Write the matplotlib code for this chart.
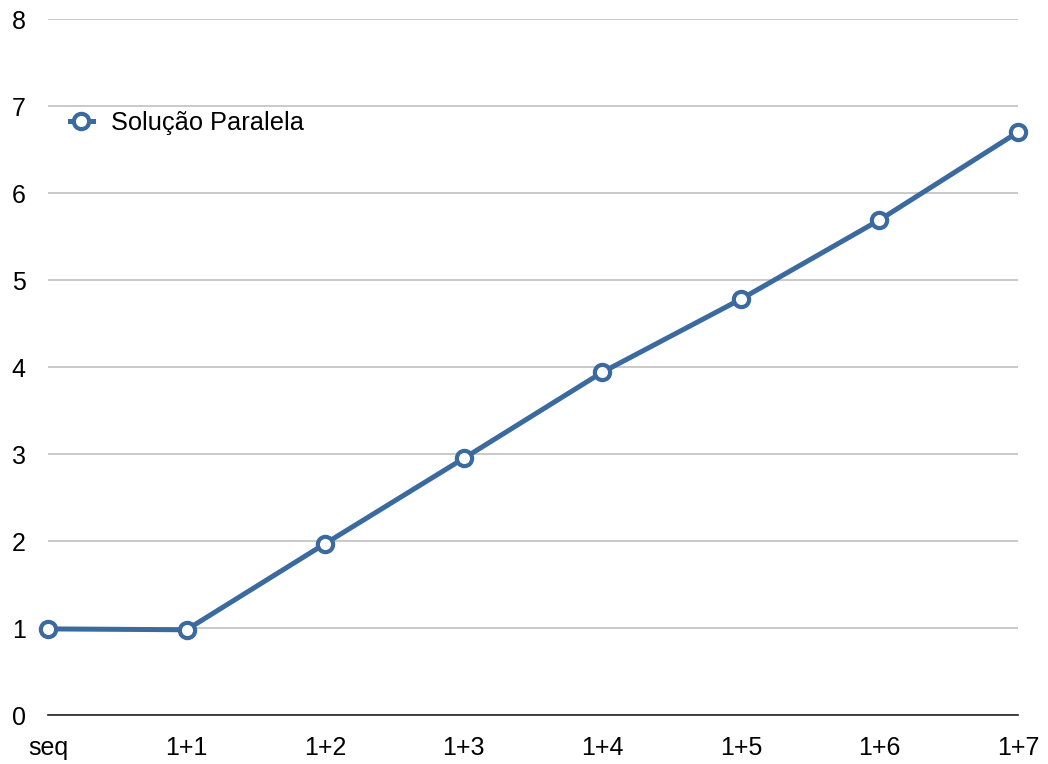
import matplotlib
matplotlib.use('Agg')

import matplotlib.pyplot as plt

# Data
categories = ['seq', '1+1', '1+2', '1+3', '1+4', '1+5', '1+6', '1+7']
speedup = [0.99, 0.98, 1.97, 2.95, 3.94, 4.78, 5.69, 6.70]
series_name = 'Solução Paralela'

plt.rcParams['font.family'] = ['Liberation Sans', 'DejaVu Sans']

fig = plt.figure(figsize=(10.48, 7.64), dpi=100)
ax = fig.add_axes([0.0458, 0.0641, 0.9256, 0.911])

color = '#3b6a9e'
x = range(len(categories))
ax.plot(x, speedup, color=color, linewidth=3.6, marker='o', markersize=11,
        markerfacecolor='white', markeredgecolor=color, markeredgewidth=3,
        label=series_name, clip_on=False, zorder=3)

ax.set_xlim(0, len(categories) - 1)
ax.set_ylim(0, 8)
ax.set_yticks(range(0, 9))
ax.set_xticks(list(x))
ax.set_xticklabels(categories)

ax.grid(axis='y', color='#c0c0c0', linewidth=1.2)
ax.set_axisbelow(True)
for side in ['top', 'right', 'left']:
    ax.spines[side].set_visible(False)
ax.spines['bottom'].set_color('#222222')
ax.spines['bottom'].set_linewidth(1.2)

ax.tick_params(axis='both', length=0, labelsize=18, colors='black')
ax.tick_params(axis='y', pad=16)
ax.tick_params(axis='x', pad=15)

ax.legend(loc='center left', bbox_to_anchor=(0.0227, 0.8506), frameon=False,
          borderaxespad=0, borderpad=0,
          fontsize=18.3, handlelength=0.9, handletextpad=0.7)

fig.savefig('out.png', dpi=100)
